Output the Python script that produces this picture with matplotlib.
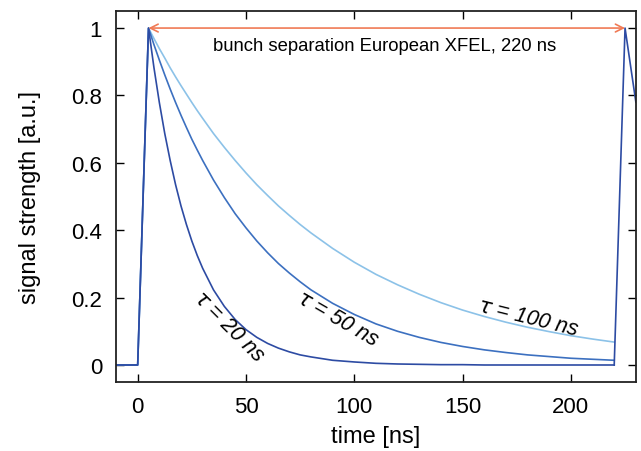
import matplotlib.pyplot as plt
import numpy as np

plt.rcParams['font.family'] = ['Liberation Sans', 'DejaVu Sans']

# values (signal strength vs time)
t = [-10, 0, 5, 7.5, 10, 12.5, 15, 17.5, 20, 22.5, 25, 27.5, 30, 35, 40, 45, 50,
     55, 60, 65, 70, 75, 80, 90, 100, 110, 120, 130, 140, 150, 160, 170, 180, 190,
     200, 210, 220]
sig_20 = [0, 0, 1, 0.883, 0.779, 0.687, 0.607, 0.535, 0.472, 0.417, 0.368, 0.325,
          0.287, 0.223, 0.174, 0.135, 0.105, 0.082, 0.064, 0.050, 0.039, 0.030,
          0.024, 0.014, 0.009, 0.005, 0.003, 0.002, 0.001, 0.001, 0, 0, 0, 0, 0,
          0, 0]
sig_50 = [0, 0, 1, 0.951, 0.905, 0.861, 0.819, 0.779, 0.741, 0.705, 0.670, 0.638,
          0.607, 0.549, 0.497, 0.449, 0.407, 0.368, 0.333, 0.301, 0.273, 0.247,
          0.223, 0.183, 0.150, 0.122, 0.100, 0.082, 0.067, 0.055, 0.045, 0.037,
          0.030, 0.025, 0.020, 0.017, 0.014]
sig_100 = [0, 0, 1, 0.969, 0.939, 0.911, 0.882, 0.855, 0.829, 0.804, 0.779, 0.755,
           0.732, 0.687, 0.646, 0.607, 0.570, 0.535, 0.503, 0.472, 0.444, 0.417,
           0.392, 0.346, 0.305, 0.269, 0.238, 0.210, 0.185, 0.163, 0.144, 0.127,
           0.112, 0.099, 0.087, 0.077, 0.068]
# next bunch
t_next = [220, 225, 230]
sig_next = [0, 1, 0.78]

c_dark = '#2d4ba3'
c_mid = '#3c70c0'
c_light = '#8cc2e8'

fig = plt.figure(figsize=(6.41, 4.52), dpi=100)
ax = fig.add_axes([0.181, 0.153, 0.811, 0.82])

ax.plot(t, sig_100, color=c_light, lw=1.2)
ax.plot(t, sig_50, color=c_mid, lw=1.2)
ax.plot(t, sig_20, color=c_dark, lw=1.2)
ax.plot(t_next, sig_next, color=c_dark, lw=1.2)

ax.annotate('', xy=(5, 1), xytext=(225, 1),
            arrowprops=dict(arrowstyle='<->', color='#f07a55', lw=1.2,
                            shrinkA=0, shrinkB=0, mutation_scale=14))
ax.text(114, 0.947, 'bunch separation European XFEL, 220 ns', ha='center',
        va='center', fontsize=13.3)

lab = dict(ha='center', va='center', fontsize=15.5, style='italic')
ax.text(42, 0.116, r'$\tau$ = 20 ns', rotation=-45, **lab)
ax.text(92, 0.137, r'$\tau$ = 50 ns', rotation=-30, **lab)
ax.text(180, 0.142, r'$\tau$ = 100 ns', rotation=-14, **lab)

ax.set_xlim(-10, 230)
ax.set_ylim(-0.05, 1.05)
ax.set_xticks([0, 50, 100, 150, 200])
ax.set_yticks([0, 0.2, 0.4, 0.6, 0.8, 1])
ax.set_yticklabels(['0', '0.2', '0.4', '0.6', '0.8', '1'])
ax.tick_params(direction='in', top=True, right=True, length=6, width=1,
               labelsize=16, pad=10)
for s in ax.spines.values():
    s.set_linewidth(1.3)
    s.set_color('#222222')

ax.set_xlabel('time [ns]', fontsize=17, labelpad=6)
ax.set_ylabel('signal strength [a.u.]', fontsize=17, labelpad=22)

fig.savefig('out.png', dpi=100)
